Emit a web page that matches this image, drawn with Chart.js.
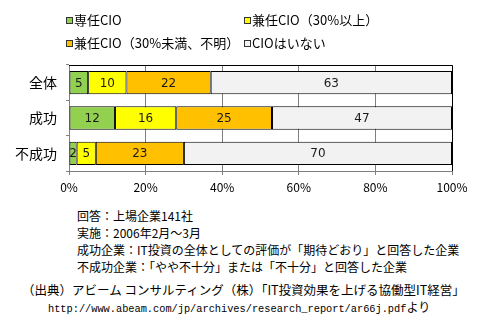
<!DOCTYPE html>
<html>
<head>
<meta charset="utf-8">
<script src="https://cdn.jsdelivr.net/npm/chart.js@4"></script>
<style>
  body { margin: 0; background: #fff; width: 482px; height: 321px; position: relative; overflow: hidden;
         font-family: "Noto Sans CJK JP", sans-serif; color: #000; }
  #wrap { position: absolute; left: 0; top: 0; width: 482px; height: 200px; }
  .leg { position: absolute; font-size: 13px; line-height: 16px; white-space: nowrap; }
  .leg i { display: inline-block; width: 5px; height: 5px; border: 1px solid #333; margin-right: 1px; vertical-align: 1px; }
  .note { position: absolute; left: 77px; top: 207px; font-size: 12px; line-height: 17px; white-space: nowrap; }
  .src { position: absolute; left: 22px; top: 281px; font-size: 12.5px; line-height: 17px; white-space: nowrap; }
  .url { font-family: "Liberation Mono", monospace; font-size: 10.3px; padding-left: 26px; }
  .url span { font-family: "Noto Sans CJK JP", sans-serif; font-size: 12px; }
</style>
</head>
<body>
<div id="wrap"><canvas id="c" width="482" height="200"></canvas></div>
<div id="legend"></div>
<div class="note">回答：上場企業141社<br>実施：2006年2月～3月<br>成功企業：IT投資の全体としての評価が「期待どおり」と回答した企業<br>不成功企業：「やや不十分」または「不十分」と回答した企業</div>
<div class="src">（出典）アビーム コンサルティング（株）「IT投資効果を上げる協働型IT経営」<br><span class="url">http://www.abeam.com/jp/archives/research_report/ar66j.pdf<span>より</span></span></div>
<script>
// 回答企業の CIO 設置状況 (%)
const categories = ['全体', '成功', '不成功'];
const seriesNames = ['専任CIO', '兼任CIO（30%以上）', '兼任CIO（30%未満、不明）', 'CIOはいない'];
const senninCio = [5, 12, 2];
const kenninHigh = [10, 16, 5];
const kenninLow = [22, 25, 23];
const noCio = [63, 47, 70];
const xTickValues = [0, 20, 40, 60, 80, 100];

const colors = ['#92d050', '#ffff00', '#ffc000', '#f2f2f2'];
const seriesValues = [senninCio, kenninHigh, kenninLow, noCio];

const datasets = seriesNames.map((name, i) => ({
  label: name,
  data: seriesValues[i],
  backgroundColor: colors[i],
  borderColor: '#000',
  borderWidth: 1,
  borderSkipped: false,
  categoryPercentage: 0.66,
  barPercentage: 1,
}));

// 凡例は2列のHTMLで
const legendPos = [[66, 12], [244, 12], [66, 35], [244, 35]];
document.getElementById('legend').innerHTML = datasets.map((d, i) =>
  `<div class="leg" style="left:${legendPos[i][0]}px;top:${legendPos[i][1]}px"><i style="background:${d.backgroundColor}"></i>${d.label}</div>`
).join('');

// 棒の中央に値を描く
const valueLabels = {
  id: 'valueLabels',
  afterDatasetsDraw(chart) {
    const ctx = chart.ctx;
    ctx.save();
    ctx.font = '12px "DejaVu Sans", sans-serif';
    ctx.fillStyle = '#1a1a1a';
    ctx.textAlign = 'center';
    ctx.textBaseline = 'middle';
    chart.data.datasets.forEach((ds, i) => {
      chart.getDatasetMeta(i).data.forEach((bar, j) => {
        const p = bar.getProps(['x', 'base', 'y'], true);
        ctx.fillText(String(ds.data[j]), (p.x + p.base) / 2, p.y + 1);
      });
    });
    ctx.restore();
  },
};

// 上と右の枠線
const frame = {
  id: 'frame',
  afterDraw(chart) {
    const { left, right, top, bottom } = chart.chartArea;
    const ctx = chart.ctx;
    ctx.save();
    ctx.strokeStyle = '#000';
    ctx.lineWidth = 1;
    ctx.beginPath();
    ctx.moveTo(left, top + 0.5);
    ctx.lineTo(right + 0.5, top + 0.5);
    ctx.lineTo(right + 0.5, bottom);
    ctx.stroke();
    ctx.restore();
  },
};

new Chart(document.getElementById('c'), {
  type: 'bar',
  data: { labels: categories, datasets },
  plugins: [valueLabels, frame],
  options: {
    responsive: false,
    animation: false,
    indexAxis: 'y',
    layout: { padding: { top: 65, right: 30, left: 0, bottom: 0 } },
    plugins: { legend: { display: false }, tooltip: { enabled: false } },
    scales: {
      x: {
        stacked: true,
        min: 0,
        max: 100,
        afterBuildTicks: (s) => { s.ticks = xTickValues.map((v) => ({ value: v })); },
        afterFit: (s) => { s.height = 29; },
        ticks: {
          callback: (v) => v + '%',
          color: '#000',
          font: { family: '"Noto Sans CJK JP", sans-serif', size: 12 },
          padding: 5,
          maxRotation: 0,
        },
        grid: { color: '#808080', tickLength: 4 },
        border: { color: '#808080' },
      },
      y: {
        stacked: true,
        afterFit: (s) => { s.width = 69; },
        ticks: {
          color: '#000',
          font: { family: '"Noto Sans CJK JP", sans-serif', size: 14 },
          padding: 9,
        },
        grid: { color: '#808080', drawOnChartArea: false, tickLength: 3, offset: true },
        border: { color: '#808080' },
      },
    },
  },
});
</script>
</body>
</html>
